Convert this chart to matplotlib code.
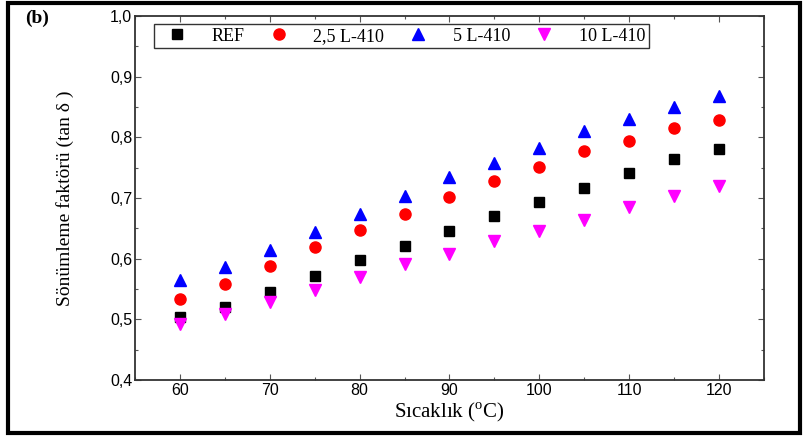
#!/usr/bin/env python3
import matplotlib
matplotlib.use('Agg')
import matplotlib.pyplot as plt
from matplotlib.ticker import MultipleLocator, FuncFormatter
from matplotlib.patches import Rectangle

plt.rcParams['mathtext.fontset'] = 'custom'
plt.rcParams['mathtext.rm'] = 'Liberation Serif'

temps = [60, 65, 70, 75, 80, 85, 90, 95, 100, 105, 110, 115, 120]
ref = [0.504, 0.521, 0.545, 0.572, 0.597, 0.621, 0.645, 0.671, 0.693, 0.717, 0.741, 0.764, 0.781]
l410_25 = [0.533, 0.559, 0.588, 0.620, 0.648, 0.673, 0.702, 0.728, 0.751, 0.777, 0.794, 0.816, 0.828]
l410_5 = [0.565, 0.586, 0.614, 0.644, 0.673, 0.704, 0.734, 0.758, 0.783, 0.810, 0.831, 0.850, 0.868]
l410_10 = [0.493, 0.508, 0.528, 0.549, 0.570, 0.592, 0.608, 0.629, 0.646, 0.664, 0.685, 0.704, 0.720]
labels = ['REF', '2,5 L-410', '5 L-410', '10 L-410']

serif = 'Liberation Serif'
sans = 'Liberation Sans'


def main():
    fig = plt.figure(figsize=(8.04, 4.36), dpi=100)
    ax = fig.add_axes([135/804, 56/436, 629/804, 364/436])

    ax.plot(temps, ref, 's', color='black', ms=7, label=labels[0], linestyle='none')
    ax.plot(temps, l410_25, 'o', color='red', ms=8, label=labels[1], linestyle='none')
    ax.plot(temps, l410_5, '^', color='blue', ms=9, label=labels[2], linestyle='none')
    ax.plot(temps, l410_10, 'v', color='magenta', ms=9, label=labels[3], linestyle='none')

    ax.set_xlim(55, 125)
    ax.set_ylim(0.4, 1.0)
    ax.xaxis.set_major_locator(MultipleLocator(10))
    ax.xaxis.set_minor_locator(MultipleLocator(5))
    ax.yaxis.set_major_locator(MultipleLocator(0.1))
    ax.yaxis.set_minor_locator(MultipleLocator(0.05))
    ax.yaxis.set_major_formatter(FuncFormatter(lambda v, p: ('%.1f' % v).replace('.', ',')))
    ax.tick_params(which='both', direction='in', top=True, right=True, width=0.8, color='#555555')
    ax.tick_params(which='major', length=4, labelsize=11.5)
    ax.tick_params(axis='x', which='major', pad=2)
    ax.tick_params(axis='y', which='major', pad=2)
    ax.tick_params(which='minor', length=2)
    for t in ax.get_xticklabels() + ax.get_yticklabels():
        t.set_fontfamily(sans)
    for s in ax.spines.values():
        s.set_linewidth(1.3)
        s.set_color('#333333')

    ax.set_xlabel(r'Sıcaklık ($^{\rm o}$C)', fontfamily=serif, fontsize=15, labelpad=2)
    ax.set_ylabel('Sönümleme faktörü (tan δ )', fontfamily=serif, fontsize=14, labelpad=26)

    leg = ax.legend(loc='upper left', bbox_to_anchor=(0.030, 0.978), borderaxespad=0,
                    ncol=4, frameon=True, fancybox=False, edgecolor='black',
                    prop={'family': serif, 'size': 13},
                    handletextpad=0.8, columnspacing=0.8, borderpad=0.2, handlelength=2.2)
    leg.get_frame().set_linewidth(1.0)

    fig.text(25/804, 1 - 18/436, '(b)', fontfamily=serif, fontweight='bold', fontsize=14,
             va='center', ha='left')
    fig.patches.append(Rectangle((8/804, 3/436), 792/804, 430/436, transform=fig.transFigure,
                                 fill=False, edgecolor='black', linewidth=3))

    fig.savefig('out.png', dpi=100)


if __name__ == '__main__':
    main()
